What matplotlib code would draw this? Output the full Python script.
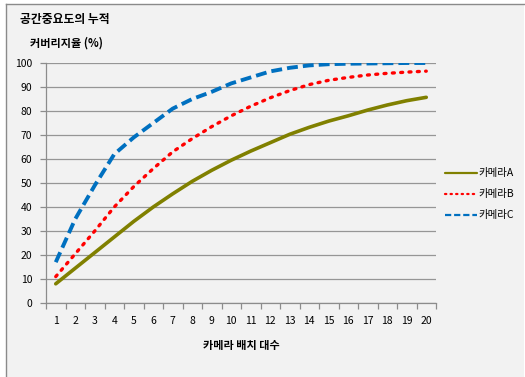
import matplotlib
matplotlib.use("Agg")
import matplotlib.pyplot as plt
from matplotlib.lines import Line2D

plt.rcParams['font.family'] = ['Noto Sans CJK KR', 'DejaVu Sans']

cameras = list(range(1, 21))
cam_a = [8, 14.5, 21, 27.5, 34, 40, 45.5, 50.7, 55.3, 59.5,
         63.3, 66.8, 70.3, 73.2, 75.8, 78, 80.4, 82.5, 84.3, 85.7]
cam_b = [11, 20.5, 30, 40, 48.5, 56, 63, 68.5, 73.5, 78,
         82, 85.5, 88.5, 91, 92.8, 94, 95, 95.7, 96.2, 96.6]
cam_c = [17, 35, 49, 62, 69, 75, 81, 85, 88, 91.5,
         94, 96.5, 98, 99, 99.5, 99.7, 99.8, 99.9, 100, 100]
series_names = ['카메라A', '카메라B', '카메라C']

bg = '#f2f2f2'
fig = plt.figure(figsize=(5.25, 3.77), dpi=100)
fig.patch.set_facecolor('white')

# panel background with border on left/top
fig.patches.append(plt.Rectangle((6/525, 0), 1 - 7/525, 1 - 4/377,
                                 transform=fig.transFigure, facecolor=bg,
                                 edgecolor='none', zorder=-2))
fig.lines.append(Line2D([6/525, 6/525], [0, 1 - 4/377], transform=fig.transFigure,
                        color='#8a8a8a', lw=1.0))
fig.lines.append(Line2D([6/525, 1], [1 - 4/377, 1 - 4/377], transform=fig.transFigure,
                        color='#8a8a8a', lw=1.0))

ax = fig.add_axes([46/525, 1 - 303/377, 390/525, 240/377])
ax.set_facecolor(bg)

ax.plot(cameras, cam_a, color='#808000', lw=2.6, solid_capstyle='round', label=series_names[0])
ax.plot(cameras, cam_b, color='#ff0000', lw=2.4, linestyle=(0, (0.6, 1.9)),
        dash_capstyle='round', label=series_names[1])
ax.plot(cameras, cam_c, color='#0070c0', lw=2.8, linestyle=(0, (2.8, 1.3)),
        label=series_names[2])

ax.set_xlim(0.5, 20.5)
ax.set_ylim(0, 100)
ax.set_yticks(range(0, 101, 10))
ax.yaxis.grid(True, color='#969696', lw=0.9)
ax.set_axisbelow(True)

# category axis: ticks between categories, labels centered
ax.set_xticks([i + 0.5 for i in range(0, 21)])
ax.set_xticklabels([])
ax.set_xticks(cameras, minor=True)
ax.set_xticklabels([str(c) for c in cameras], minor=True)
ax.tick_params(axis='x', which='minor', length=0, pad=9, labelsize=7.5)
ax.tick_params(axis='x', which='major', length=4, color='#8c8c8c', width=0.9)
ax.tick_params(axis='y', length=4, color='#8c8c8c', width=0.9, labelsize=7.5, pad=6)

for side in ['top', 'right']:
    ax.spines[side].set_visible(False)
for side in ['left', 'bottom']:
    ax.spines[side].set_color('#8c8c8c')
    ax.spines[side].set_linewidth(0.9)

ax.set_xlabel('카메라 배치 대수', fontsize=8, fontweight='bold', labelpad=10)

fig.text(20/525, 1 - 20/377, '공간중요도의 누적', fontsize=8.5, fontweight='bold', va='center')
fig.text(30/525, 1 - 43/377, '커버리지율 (%)', fontsize=8, fontweight='bold', va='center')

leg = ax.legend(loc='upper left', bbox_to_anchor=(1.0, 0.6), frameon=False,
                fontsize=7.5, handlelength=3.0, handletextpad=0.2, labelspacing=1.05)
for h in leg.get_lines():
    h.set_linewidth(1.6)

fig.savefig('out.png', dpi=100, facecolor=fig.get_facecolor())
